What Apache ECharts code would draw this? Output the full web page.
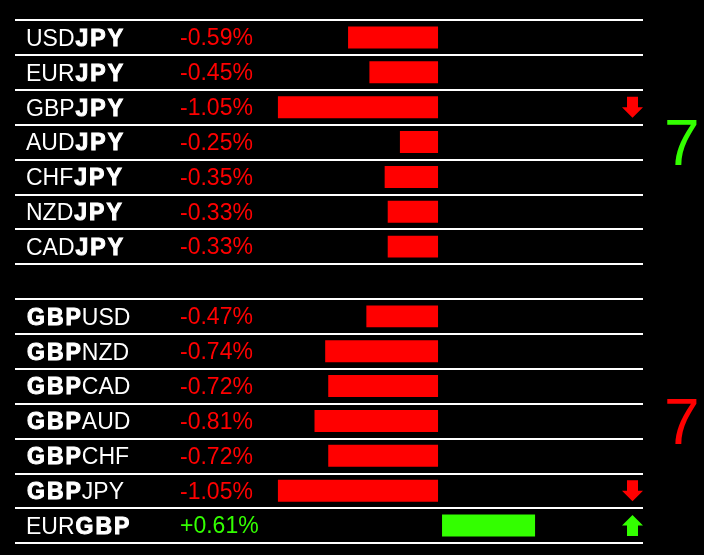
<!DOCTYPE html>
<html>
<head>
<meta charset="utf-8">
<script src="https://cdn.jsdelivr.net/npm/echarts@6/dist/echarts.min.js"></script>
<style>
html,body{margin:0;padding:0;background:#000;}
#c{width:704px;height:555px;}
</style>
</head>
<body>
<div id="c"></div>
<script>
// ---- data ----
const pairs = ['USDJPY','EURJPY','GBPJPY','AUDJPY','CHFJPY','NZDJPY','CADJPY','',
               'GBPUSD','GBPNZD','GBPCAD','GBPAUD','GBPCHF','GBPJPY','EURGBP'];
const boldCurrency = ['JPY','JPY','JPY','JPY','JPY','JPY','JPY','',
                      'GBP','GBP','GBP','GBP','GBP','GBP','GBP'];
const changes = [-0.59,-0.45,-1.05,-0.25,-0.35,-0.33,-0.33,null,
                 -0.47,-0.74,-0.72,-0.81,-0.72,-1.05,0.61];
const arrows = [null,null,'down',null,null,null,null,null,
                null,null,null,null,null,'down','up'];
const scores = [7, 7];
const scoreColors = ['#33ff00','#ff0000'];

const RED = '#ff0000', GREEN = '#33ff00';
const FONT = "'Liberation Sans', Arial, sans-serif";

function labelFor(idx){
  const p = pairs[idx];
  const b = boldCurrency[idx];
  if(!p) return '';
  const k = p.indexOf(b);
  let s = '';
  if(k > 0) s += '{n|' + p.slice(0,k) + '}';
  s += b.split('').map(ch => '{b|' + ch + '}').join('');
  if(k + b.length < p.length) s += '{n|' + p.slice(k + b.length) + '}';
  return s;
}

const seriesData = [];
changes.forEach((v,i)=>{ if(v !== null) seriesData.push([v,i]); });

const chart = echarts.init(document.getElementById('c'), null, {renderer:'canvas'});
chart.setOption({
  backgroundColor:'#000',
  animation:false,
  grid: {left:15, right:61, top:20, bottom:12},
  xAxis: {type:'value', min:-2.774, max:1.344, show:false},
  yAxis: {
    type:'category', inverse:true, data:pairs,
    axisLine:{show:false}, axisTick:{show:false},
    splitLine:{show:true, showMinLine:true, showMaxLine:true, interval:0, lineStyle:{color:'#fff', width:2}},
    axisLabel:{
      inside:true, margin:11, interval:0, align:'left',
      padding:[4,0,0,0],
      formatter:(val, idx)=>labelFor(idx),
      rich:{
        n:{fontSize:23, color:'#fff', fontFamily:FONT},
        b:{fontSize:23, color:'#fff', fontFamily:FONT, fontWeight:'bold',
           textBorderColor:'#fff', textBorderWidth:1, padding:[0,1,0,1]}
      }
    }
  },
  series:[{
    type:'custom',
    data:seriesData,
    encode:{x:0, y:1},
    renderItem:(params, api)=>{
      const v = api.value(0), row = api.value(1);
      const cs = params.coordSys;
      const p0 = api.coord([0,row]);
      const p1 = api.coord([v,row]);
      const bh = api.size([0,1])[1]*0.63;
      const pos = v >= 0;
      const col = pos ? GREEN : RED;
      const w = Math.abs(p1[0]-p0[0]);
      const children = [{
        type:'rect',
        shape:{x: pos ? p0[0]+4 : p1[0], y: p0[1]-bh/2, width:w, height:bh},
        style:{fill:col}
      },{
        type:'text', x: cs.x+165, y: p0[1]+1.5,
        style:{text:(pos?'+':'')+v.toFixed(2)+'%', fill:col, font:'23px '+FONT, verticalAlign:'middle', align:'left'}
      }];
      const a = arrows[row];
      if(a){
        const cx = cs.x + cs.width - 10.5, cy = p0[1];
        const pts = a === 'down'
          ? [[-5.5,-10.5],[5.5,-10.5],[5.5,0],[10.5,0],[0,10.5],[-10.5,0],[-5.5,0]]
          : [[-5.5,10.5],[5.5,10.5],[5.5,0],[10.5,0],[0,-10.5],[-10.5,0],[-5.5,0]];
        children.push({type:'polygon', shape:{points:pts.map(p=>[cx+p[0],cy+p[1]])}, style:{fill: a==='down'?RED:GREEN}});
      }
      return {type:'group', children};
    }
  }],
  graphic:[
    {type:'text', left:664, top:115, style:{text:String(scores[0]), fill:scoreColors[0], font:'64px '+FONT}},
    {type:'text', left:664, top:394, style:{text:String(scores[1]), fill:scoreColors[1], font:'64px '+FONT}}
  ]
});
</script>
</body>
</html>
